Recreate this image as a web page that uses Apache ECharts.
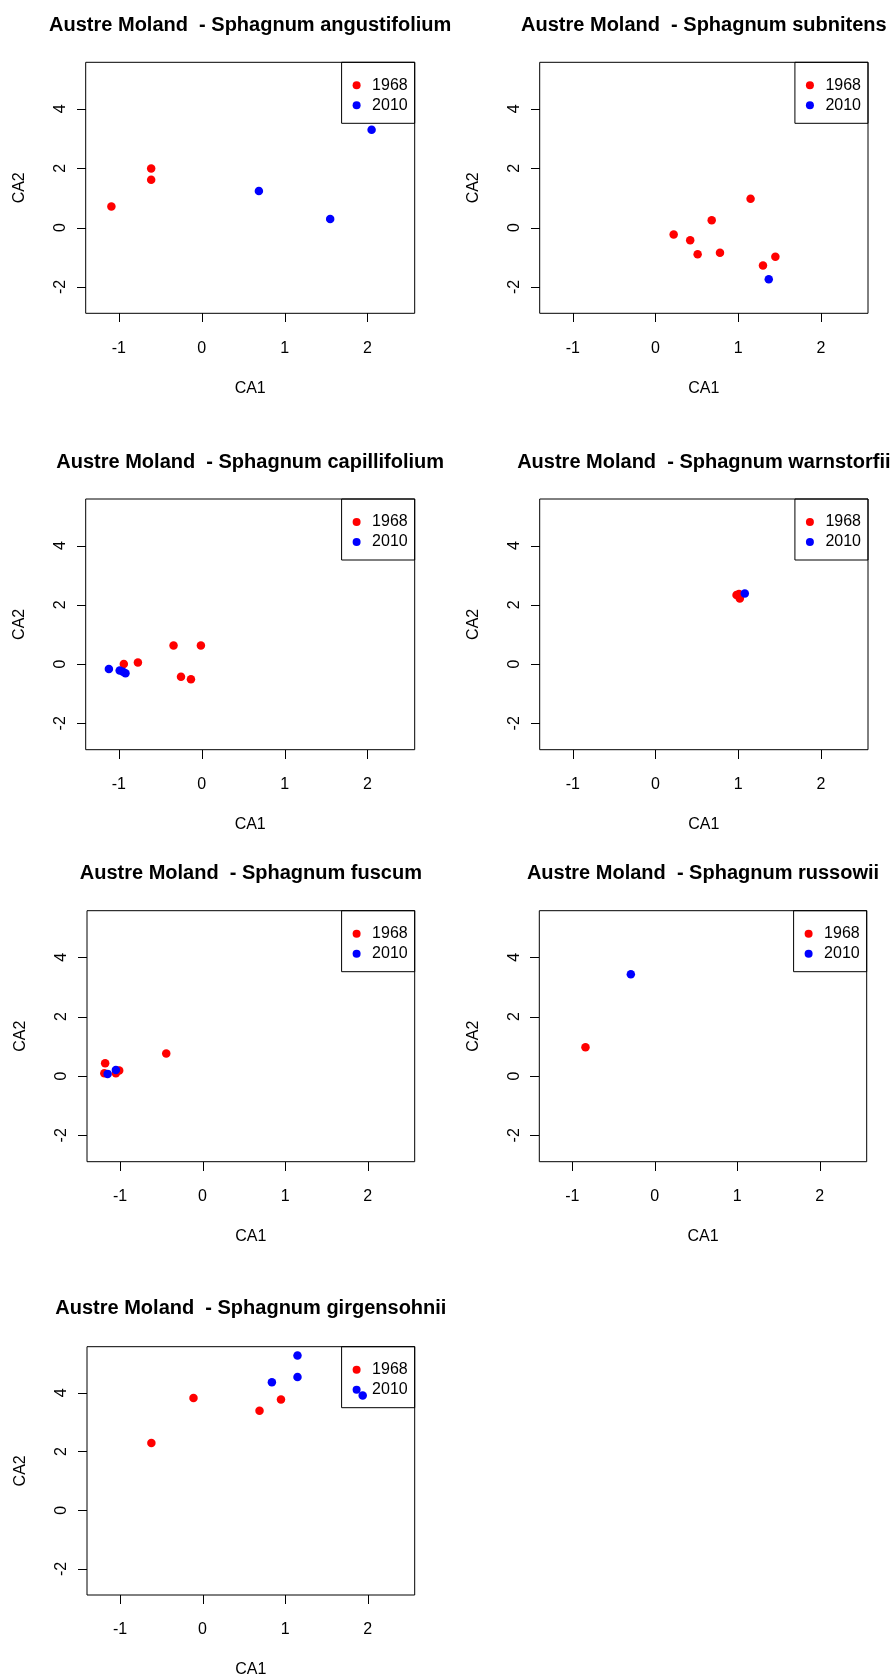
<!DOCTYPE html>
<html>
<head>
<meta charset="utf-8">
<script src="https://cdn.jsdelivr.net/npm/echarts@6/dist/echarts.min.js"></script>
<style>
html,body{margin:0;padding:0;background:#fff;}
#chart{width:895px;height:1679px;}
</style>
</head>
<body>
<div id="chart"></div>
<script>
// ---- Data (CA1, CA2) ----
const panelTitles = [
  "Austre Moland  - Sphagnum angustifolium",
  "Austre Moland  - Sphagnum subnitens",
  "Austre Moland  - Sphagnum capillifolium",
  "Austre Moland  - Sphagnum warnstorfii",
  "Austre Moland  - Sphagnum fuscum",
  "Austre Moland  - Sphagnum russowii",
  "Austre Moland  - Sphagnum girgensohnii"
];
const years = ["1968", "2010"];
const xTicks = [-1, 0, 1, 2];
const yTicks = [-2, 0, 2, 4];

const angustifolium1968 = [[-1.09, 0.71], [-0.61, 1.99], [-0.61, 1.61]];
const angustifolium2010 = [[0.69, 1.23], [1.55, 0.29], [2.05, 3.30]];

const subnitens1968 = [[0.22, -0.23], [0.42, -0.43], [0.51, -0.90], [0.68, 0.25], [0.78, -0.85], [1.15, 0.97], [1.30, -1.28], [1.45, -0.98]];
const subnitens2010 = [[1.37, -1.74]];

const capillifolium1968 = [[-0.94, 0.00], [-0.77, 0.05], [-0.34, 0.63], [-0.01, 0.63], [-0.25, -0.43], [-0.13, -0.51]];
const capillifolium2010 = [[-1.12, -0.17], [-0.99, -0.22], [-0.95, -0.26], [-0.92, -0.31]];

const warnstorfii1968 = [[0.98, 2.33], [1.01, 2.36], [1.02, 2.21]];
const warnstorfii2010 = [[1.08, 2.38]];

const fuscum1968 = [[-1.18, 0.43], [-1.19, 0.09], [-1.01, 0.18], [-1.05, 0.09], [-0.44, 0.76]];
const fuscum2010 = [[-1.15, 0.07], [-1.05, 0.20]];

const russowii1968 = [[-0.84, 0.97]];
const russowii2010 = [[-0.29, 3.43]];

const girgensohnii1968 = [[-0.62, 2.29], [-0.11, 3.82], [0.69, 3.39], [0.95, 3.77]];
const girgensohnii2010 = [[0.84, 4.36], [1.15, 5.27], [1.15, 4.54], [1.94, 3.91]];

const data1968 = [angustifolium1968, subnitens1968, capillifolium1968, warnstorfii1968, fuscum1968, russowii1968, girgensohnii1968];
const data2010 = [angustifolium2010, subnitens2010, capillifolium2010, warnstorfii2010, fuscum2010, russowii2010, girgensohnii2010];

// ---- Layout (pixel boxes of the plot regions) ----
const boxes = [
  {l: 85.7, t: 62.3, w: 329, h: 251, titleY: 15},
  {l: 539.7, t: 62.3, w: 328.3, h: 251, titleY: 15},
  {l: 85.7, t: 499, w: 329, h: 250.7, titleY: 452},
  {l: 539.7, t: 499, w: 328.3, h: 250.7, titleY: 452},
  {l: 87, t: 910.7, w: 327.7, h: 251, titleY: 863},
  {l: 539.3, t: 910.7, w: 327.4, h: 251, titleY: 863},
  {l: 87, t: 1346.7, w: 327.7, h: 250, titleY: 1298}
];

const X_MIN = -1.4, X_MAX = 2.57, Y_MIN = -2.89, Y_MAX = 5.57;
const TICK_LEN = 9;
const FONT = "'Liberation Sans', Arial, Helvetica, sans-serif";
const W = 895;

const grid = [], xAxis = [], yAxis = [], series = [], title = [], legend = [];
boxes.forEach((b, i) => {
  grid.push({left: b.l, top: b.t, width: b.w, height: b.h, show: true,
    borderColor: '#000', borderWidth: 1, backgroundColor: 'transparent'});
  xAxis.push({
    type: 'value', gridIndex: i, min: X_MIN, max: X_MAX, position: 'bottom',
    name: 'CA1', nameLocation: 'middle', nameGap: 67,
    nameTextStyle: {fontFamily: FONT, fontSize: 16, color: '#000'},
    axisLine: {show: false, onZero: false},
    splitLine: {show: false},
    axisTick: {show: false},
    axisLabel: {show: true, margin: 27, customValues: xTicks, fontFamily: FONT, fontSize: 16, color: '#000',
      formatter: v => String(v)}
  });
  yAxis.push({
    type: 'value', gridIndex: i, min: Y_MIN, max: Y_MAX, position: 'left',
    name: 'CA2', nameLocation: 'middle', nameGap: 58,
    nameTextStyle: {fontFamily: FONT, fontSize: 16, color: '#000'},
    axisLine: {show: false, onZero: false},
    splitLine: {show: false},
    axisTick: {show: false},
    axisLabel: {show: true, rotate: 90, margin: 17, customValues: yTicks, fontFamily: FONT, fontSize: 16, color: '#000',
      formatter: v => String(v)}
  });
  title.push({
    text: panelTitles[i], left: b.l + b.w / 2, top: b.titleY, textAlign: 'center', padding: 0,
    textStyle: {fontFamily: FONT, fontSize: 20, fontWeight: 'bold', color: '#000'}
  });
  legend.push({
    data: years, orient: 'vertical', right: W - (b.l + b.w), top: b.t,
    selectedMode: false, icon: 'circle', itemWidth: 21, itemHeight: 8, itemGap: 4,
    padding: [15, 7, 10, 11], borderColor: '#000', borderWidth: 1, borderRadius: 0,
    textStyle: {fontFamily: FONT, fontSize: 16, color: '#000'}
  });
  series.push({
    type: 'scatter', name: years[0], xAxisIndex: i, yAxisIndex: i, data: data1968[i],
    symbol: 'circle', symbolSize: 8.5, itemStyle: {color: '#ff0000', opacity: 1}
  });
  series.push({
    type: 'scatter', name: years[1], xAxisIndex: i, yAxisIndex: i, data: data2010[i],
    symbol: 'circle', symbolSize: 8.5, itemStyle: {color: '#0000ff', opacity: 1}
  });
});

const chart = echarts.init(document.getElementById('chart'), null, {renderer: 'canvas'});
chart.setOption({
  animation: false,
  backgroundColor: '#fff',
  title, legend, grid, xAxis, yAxis, series
});

// R-style outward tick marks, positioned through the chart's own scales
function drawTicks() {
  const els = [];
  try {
    boxes.forEach((b, i) => {
      xTicks.forEach(v => {
        const p = chart.convertToPixel({xAxisIndex: i, yAxisIndex: i}, [v, Y_MIN]);
        const x = Math.round(p[0]) + 0.5, y = Math.round(p[1]);
        els.push({type: 'line', silent: true, z: 100,
          shape: {x1: x, y1: y, x2: x, y2: y + TICK_LEN}, style: {stroke: '#000', lineWidth: 1}});
      });
      yTicks.forEach(v => {
        const p = chart.convertToPixel({xAxisIndex: i, yAxisIndex: i}, [X_MIN, v]);
        const x = Math.round(p[0]), y = Math.round(p[1]) + 0.5;
        els.push({type: 'line', silent: true, z: 100,
          shape: {x1: x - TICK_LEN, y1: y, x2: x, y2: y}, style: {stroke: '#000', lineWidth: 1}});
      });
    });
    chart.setOption({graphic: {elements: els}});
  } catch (e) {
    // leave the chart without tick marks if conversion is unavailable
  }
}
drawTicks();
</script>
</body>
</html>
